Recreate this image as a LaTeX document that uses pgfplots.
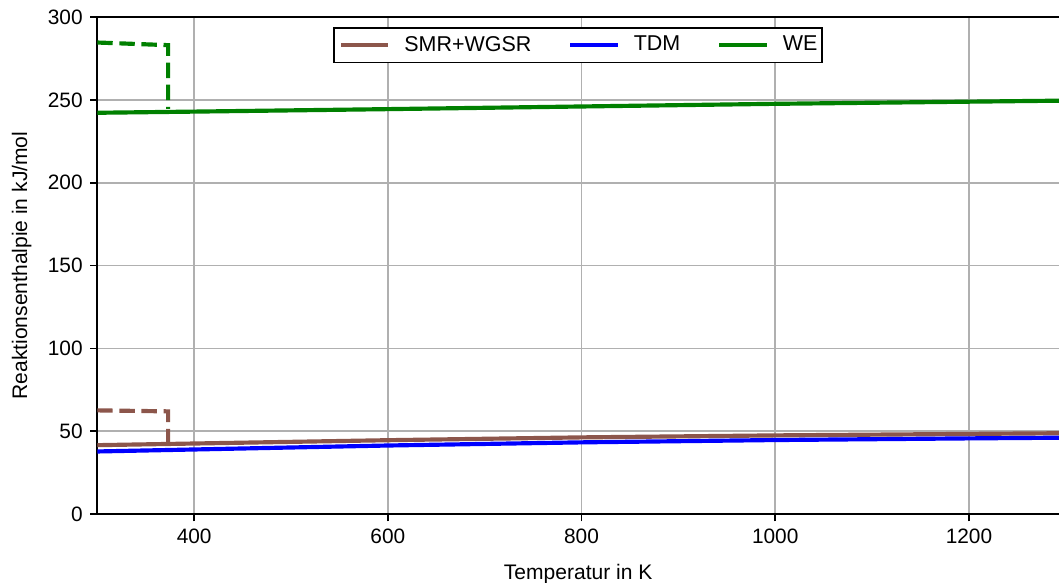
\documentclass[border=0pt]{standalone}
\usepackage{fontspec}
\setmainfont{Liberation Sans}
\usepackage{pgfplots}
\pgfplotsset{compat=1.18}
\definecolor{smr}{HTML}{8C564B}
\definecolor{tdm}{RGB}{0,0,255}
\definecolor{we}{RGB}{0,128,0}
\definecolor{gridc}{HTML}{B0B0B0}
\begin{document}
\begin{tikzpicture}
\begin{axis}[
 scale only axis, width=461.6bp, height=238.6bp,
 xmin=300, xmax=1293, ymin=0, ymax=300,
 axis x line*=box, axis y line*=left,
 xtick={400,600,...,1200}, ytick={0,50,...,300},
 tick align=outside, xtick pos=left, ytick pos=left,
 major tick length=3.5bp,
 every tick/.style={black, line width=0.8bp},
 grid=major, major grid style={color=gridc, line width=0.8bp},
 axis line style={line width=0.8bp, black},
 /pgf/number format/assume math mode=true,
 /pgf/number format/1000 sep={},
 tick label style={font=\fontsize{10bp}{12bp}\selectfont},
 label style={font=\fontsize{10.1bp}{12bp}\selectfont},
 xlabel={Temperatur in K},
 xlabel style={yshift=-3bp},
 ylabel={Reaktionsenthalpie in kJ/mol},
 ylabel style={yshift=1bp},
 legend style={at={(0.5,0.98)}, anchor=north, legend columns=3, draw=black, line width=0.8bp,
   font=\fontsize{10.3bp}{12bp}\selectfont, inner xsep=2.3bp,
   nodes={inner xsep=0pt},
   /tikz/every odd column/.append style={column sep=6.8bp},
   /tikz/every even column/.append style={column sep=17.8bp}},
 legend image code/.code={\draw[#1] (0bp,0bp) -- (22.6bp,0bp);},
]
\addplot[smr, line width=2bp] coordinates {(300,41.6) (400,42.6) (600,44.6) (800,46.3) (1000,47.5) (1200,48.4) (1293,48.8)};
\addlegendentry{SMR+WGSR}
\addplot[tdm, line width=2bp] coordinates {(300,37.8) (400,39.0) (600,41.4) (800,43.3) (1000,44.7) (1200,45.7) (1293,46.1)};
\addlegendentry{TDM}
\addplot[we, line width=2bp] coordinates {(300,242.2) (400,242.9) (600,244.4) (800,246.0) (1000,247.6) (1200,248.9) (1293,249.5)};
\addlegendentry{WE}
\addplot[smr, line width=2bp, dash pattern=on 7.4bp off 3.2bp, forget plot] coordinates {(300,62.6) (373.15,62.0) (373.15,43.5)};
\addplot[we, line width=2bp, dash pattern=on 7.4bp off 3.2bp, forget plot] coordinates {(300,284.6) (373.15,283.0) (373.15,244.5)};
\coordinate (sw) at (rel axis cs:0,0);
\coordinate (ne) at (rel axis cs:1,1);
\end{axis}
\pgfresetboundingbox
\path ([shift={(-46.7bp,-32.64bp)}]sw) rectangle ([shift={(0bp,8.16bp)}]ne);
\end{tikzpicture}
\end{document}
